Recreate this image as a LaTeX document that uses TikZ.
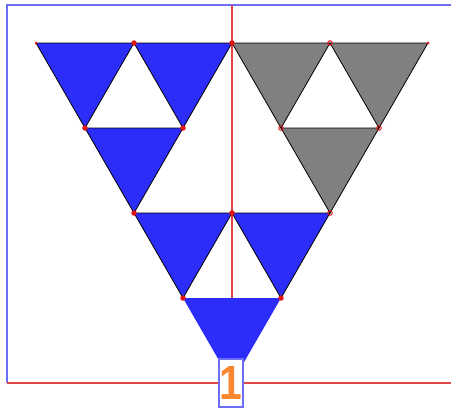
\documentclass[tikz,border=0pt]{standalone}
\usepackage{fontspec}
\setmainfont{Liberation Sans}
\definecolor{framebl}{RGB}{110,110,245}
\definecolor{fillbl}{RGB}{45,45,250}
\definecolor{fillgr}{RGB}{128,128,128}
\definecolor{redln}{RGB}{225,70,70}
\definecolor{dotred}{RGB}{225,20,20}
\definecolor{labor}{RGB}{250,135,45}
\begin{document}
\begin{tikzpicture}[x=1pt,y=-1pt,
  bluetri/.style={fill=fillbl,draw=black,line width=0.8pt,line join=miter},
  graytri/.style={fill=fillgr,draw=black,line width=0.8pt,line join=miter},
  vdot/.style={circle,fill=dotred,inner sep=0pt,minimum size=5.5pt},
  sdot/.style={circle,draw=dotred,line width=1pt,inner sep=0pt,minimum size=4.5pt},
  labbox/.style={draw=framebl,line width=1.4pt,fill=white,minimum width=24pt,minimum height=48pt,inner sep=0pt}]
\useasboundingbox (0,0) rectangle (451,410);
% lattice
\foreach \j in {0,...,4}{
  \pgfmathtruncatemacro{\m}{4-\j}
  \foreach \i in {0,...,\m}{
    \coordinate (P\i\j) at ({36+98*(\i+\j/2)},{43+85*\j});
  }
}
% frame
\draw[framebl,line width=1.6pt] (7,383) -- (7,5) -- (451,5);
\draw[redln,line width=1.2pt] (7,383) -- (451,383);
% blue (left block)
\draw[bluetri] (P00) -- (P10) -- (P01) -- cycle;
\draw[bluetri] (P10) -- (P20) -- (P11) -- cycle;
\draw[bluetri] (P01) -- (P11) -- (P02) -- cycle;
% gray (right block)
\draw[graytri] (P20) -- (P30) -- (P21) -- cycle;
\draw[graytri] (P30) -- (P40) -- (P31) -- cycle;
\draw[graytri] (P21) -- (P31) -- (P22) -- cycle;
% bottom block
\draw[bluetri] (P02) -- (P12) -- (P03) -- cycle;
\draw[bluetri] (P12) -- (P22) -- (P13) -- cycle;
\fill[fillbl] (P03) -- (P13) -- (P04) -- cycle;
% red vertical axis
\coordinate (axtop) at (232,5);
\coordinate (axbot) at (232,298);
\draw[redln,line width=1.2pt] (axtop) -- (axbot);
% vertex dots
\foreach \p in {P10,P20,P01,P11,P02,P12,P03,P13}{\node[vdot] at (\p) {};}
\foreach \p in {P30,P21,P31,P22}{\node[sdot] at (\p) {};}
\node[circle,fill=dotred,inner sep=0pt,minimum size=3pt] at (P00) {};
\node[circle,fill=dotred,inner sep=0pt,minimum size=3pt] at (P40) {};
% label
\node[labbox] (lab) at (231,383) {\fontsize{48}{48}\selectfont\color{labor}\scalebox{0.85}[1]{\bfseries 1}};
\end{tikzpicture}
\end{document}
